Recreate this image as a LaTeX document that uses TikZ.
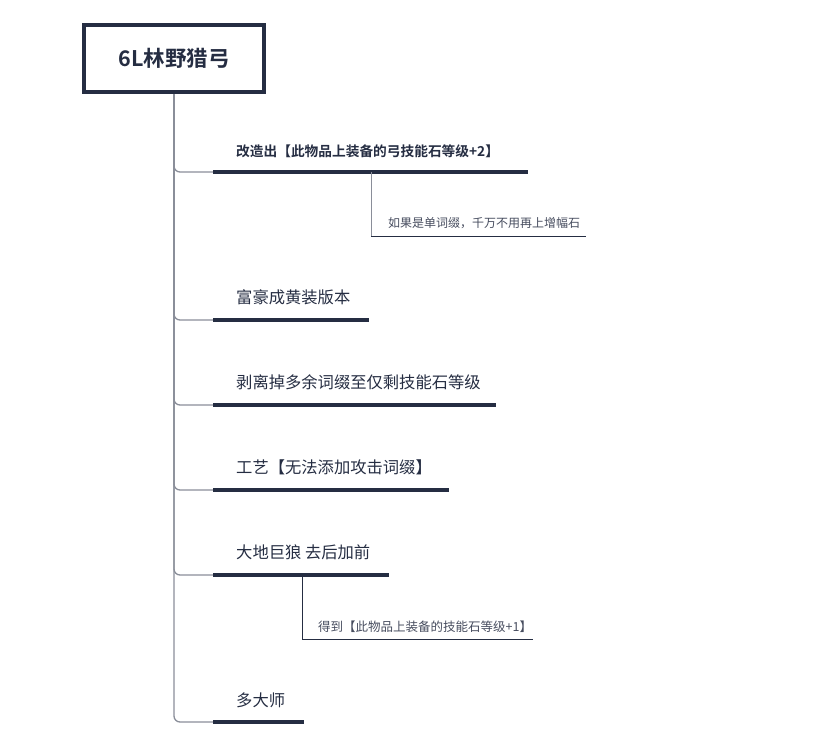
\documentclass[tikz,border=0pt]{standalone}
\usepackage{fontspec}
\setmainfont{Noto Sans CJK SC}[BoldFont={Noto Sans CJK SC Bold}]
\begin{document}
\begin{tikzpicture}[x=1pt,y=-1pt]
\definecolor{navy}{HTML}{252D42}
\definecolor{trunkc}{HTML}{8A8E99}
\tikzset{
  trunk/.style={draw=trunkc, line width=1.3pt, rounded corners=6pt},
  uline/.style={draw=navy, line width=3.6pt},
  thin/.style={draw=navy, line width=0.9pt},
  btext/.style={anchor=base west, inner sep=0pt, text=navy, font=\fontsize{16.3}{19}\selectfont},
  stext/.style={anchor=base west, inner sep=0pt, text=navy!85, font=\fontsize{12}{14}\selectfont},
}
\useasboundingbox (0,0) rectangle (814,755);
% root
\node[draw=navy, line width=4.5pt, minimum width=180pt, minimum height=67pt, inner sep=0pt,
  font=\bfseries\fontsize{21.5}{25}\selectfont, text=navy] (root) at (174,58.5) {6L林野猎弓};
% branch underline coordinates
\coordinate (b1s) at (213,172); \coordinate (b1e) at (528,172);
\coordinate (b2s) at (213,320); \coordinate (b2e) at (369,320);
\coordinate (b3s) at (213,405); \coordinate (b3e) at (496,405);
\coordinate (b4s) at (213,490); \coordinate (b4e) at (449,490);
\coordinate (b5s) at (213,575); \coordinate (b5e) at (389,575);
\coordinate (b6s) at (213,722); \coordinate (b6e) at (304,722);
% trunk connectors
\foreach \b in {b1s,b2s,b3s,b4s,b5s,b6s}{
  \draw[trunk] (root.south) |- (\b);
}
% underlines
\draw[uline] (b1s) -- (b1e);
\draw[uline] (b2s) -- (b2e);
\draw[uline] (b3s) -- (b3e);
\draw[uline] (b4s) -- (b4e);
\draw[uline] (b5s) -- (b5e);
\draw[uline] (b6s) -- (b6e);
% branch texts
\node[btext, font=\bfseries\fontsize{13.7}{16}\selectfont] (t1) at (236,156) {改造出【此物品上装备的弓技能石等级+2】};
\node[btext] (t2) at (236,303) {富豪成黄装版本};
\node[btext] (t3) at (236,388) {剥离掉多余词缀至仅剩技能石等级};
\node[btext] (t4) at (236,473) {工艺【无法添加攻击词缀】};
\node[btext] (t5) at (236,558) {大地巨狼 去后加前};
\node[btext] (t6) at (236,706) {多大师};
% sub branches
\coordinate (s1a) at (371,172); \coordinate (s1e) at (586,236);
\draw[thin, draw=trunkc] (s1a) |- (s1e);
\draw[thin] (s1a |- s1e) -- (s1e);
\node[stext] (u1) at (388,227.5) {如果是单词缀，千万不用再上增幅石};
\coordinate (s5a) at (302,575); \coordinate (s5e) at (533,639);
\draw[thin] (s5a) |- (s5e);
\node[stext, font=\fontsize{12.5}{14}\selectfont] (u5) at (318,631) {得到【此物品上装备的技能石等级+1】};
\end{tikzpicture}
\end{document}
